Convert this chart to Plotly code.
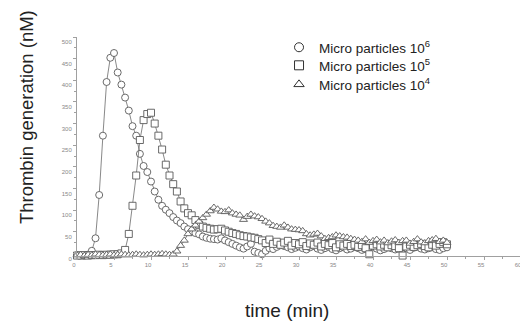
import plotly.graph_objects as go

time_min = [0.0, 0.5, 1.0, 1.5, 2.0, 2.5, 3.0, 3.5, 4.0, 4.5, 5.0, 5.5, 6.0, 6.5, 7.0, 7.5, 8.0, 8.5, 9.0, 9.5,
            10.0, 10.5, 11.0, 11.5, 12.0, 12.5, 13.0, 13.5, 14.0, 14.5, 15.0, 15.5, 16.0, 16.5, 17.0, 17.5, 18.0, 18.5, 19.0, 19.5,
            20.0, 20.5, 21.0, 21.5, 22.0, 22.5, 23.0, 23.5, 24.0, 24.5, 25.0, 25.5, 26.0, 26.5, 27.0, 27.5, 28.0, 28.5, 29.0, 29.5,
            30.0, 30.5, 31.0, 31.5, 32.0, 32.5, 33.0, 33.5, 34.0, 34.5, 35.0, 35.5, 36.0, 36.5, 37.0, 37.5, 38.0, 38.5, 39.0, 39.5,
            40.0, 40.5, 41.0, 41.5, 42.0, 42.5, 43.0, 43.5, 44.0, 44.5, 45.0, 45.5, 46.0, 46.5, 47.0, 47.5, 48.0, 48.5, 49.0, 49.5,
            50.0]

mp_1e6 = [-4, -4, -5, -3, 6, 35, 135, 272, 396, 452, 463, 418, 390, 360, 330, 294, 272, 230, 202, 188,
          166, 143, 124, 110, 101, 93, 84, 76, 70, 62, 56, 51, 47, 44, 39, 36, 34, 33, 32, 35,
          30, 26, 22, 18, 14, 11, 16, 22, 4, 1, -2, 6, 12, 10, 15, 19, 17, 14, 10, 13,
          16, 12, 9, 14, 17, 11, 8, 12, 15, 10, 7, 12, 14, 9, 11, 15, 12, 8, 10, 13,
          16, 11, 7, 10, 14, 12, 9, 11, 15, 12, 8, 13, 16, 11, 9, 12, 15, 10, 8, 12,
          14]

mp_1e5 = [-5, -5, -4, -5, -4, -4, -3, -4, -3, -3, -2, -2, 0, 8, 45, 110, 180, 262, 308, 322,
          325, 300, 272, 240, 205, 180, 160, 143, 120, 104, 93, 88, 77, 66, 62, 59, 57, 55, 56, 57,
          53, 50, 47, 45, 42, 40, 39, 37, 36, 33, 30, 24, 32, 22, 27, 20, 25, 29, 18, 24,
          21, 26, 17, 23, 20, 25, 16, 22, 19, 24, 14, 21, 18, 22, 17, 20, 15, 19, 12, -2,
          18, 21, 16, 20, 14, 19, 17, 12, -5, 16, 20, 15, 19, 22, 17, 14, 20, 18, 22, 26,
          21]

mp_1e4 = [-4, -3, -5, -3, -4, -2, -3, -4, -3, -2, -4, -3, -2, -3, -4, -3, -2, -3, -4, -3,
          -2, -3, -2, -1, -2, -3, -2, 5, 18, 30, 45, 56, 65, 74, 82, 90, 98, 106, 102, 97,
          96, 100, 93, 90, 88, 78, 85, 90, 86, 84, 80, 74, 70, 64, 62, 60, 65, 60, 56, 55,
          54, 52, 45, 42, 44, 46, 40, 34, 36, 38, 42, 40, 38, 37, 34, 32, 30, 27, 33, 25,
          29, 32, 26, 30, 24, 28, 31, 25, 29, 30, 23, 27, 33, 26, 24, 29, 31, 34, 27, 30,
          25]

series = [
    ("Micro particles 10<sup>6</sup>", mp_1e6, "circle"),
    ("Micro particles 10<sup>5</sup>", mp_1e5, "square"),
    ("Micro particles 10<sup>4</sup>", mp_1e4, "triangle-up"),
]
legend_ids = ["legend", "legend2", "legend3"]
legend_tops = [1.023, 0.9405, 0.8536]

x_ticks = [0, 5, 10, 15, 20, 25, 30, 35, 40, 45, 50, 55, 60]
y_ticks = [0, 50, 100, 150, 200, 250, 300, 350, 400, 450, 500]

mark_col = "#5a5a5a"
fig = go.Figure()
for name, vals, sym in series:
    fig.add_trace(go.Scatter(
        x=time_min, y=vals, mode="lines+markers", showlegend=False,
        line=dict(color="#6a6a6a", width=0.8),
        marker=dict(symbol=sym, size=7, color="white",
                    line=dict(color=mark_col, width=0.9)),
        cliponaxis=False,
    ))
for (name, vals, sym), lid in zip(series, legend_ids):
    fig.add_trace(go.Scatter(
        x=[None], y=[None], mode="markers", name=name, legend=lid,
        marker=dict(symbol=sym, size=9, color="white",
                    line=dict(color="#333333", width=1)),
    ))

legend_font = dict(family="Liberation Sans, Arial, sans-serif", size=13.5, color="#222222")
legend_layout = {}
for lid, top in zip(legend_ids, legend_tops):
    legend_layout[lid] = dict(x=0.455, y=top, xanchor="left", yanchor="top", font=legend_font,
                              bgcolor="rgba(0,0,0,0)", itemwidth=30)

axis_col = "#a0a0a0"
tick_font = dict(family="Liberation Sans, Arial, sans-serif", size=6, color="#888888")
fig.update_layout(
    width=520, height=315,
    margin=dict(l=69, r=7, t=29, b=67),
    paper_bgcolor="white", plot_bgcolor="white",
    showlegend=True,
    **legend_layout,
    xaxis=dict(range=[0, 60], tickvals=x_ticks, ticktext=[str(v) for v in x_ticks],
               showgrid=False, zeroline=False, showline=True, linecolor=axis_col, linewidth=1,
               ticks="outside", ticklen=3, tickcolor=axis_col, tickfont=tick_font,
               ticklabelshift=-3,
               minor=dict(dtick=2.5, ticks="outside", ticklen=2, tickcolor=axis_col, showgrid=False)),
    yaxis=dict(range=[-6, 500], tickvals=y_ticks, ticktext=[str(v) for v in y_ticks],
               showgrid=False, zeroline=False, showline=True, linecolor=axis_col, linewidth=1,
               ticks="outside", ticklen=3, tickcolor=axis_col, tickfont=tick_font,
               ticklabelshift=5,
               minor=dict(dtick=25, ticks="outside", ticklen=2, tickcolor=axis_col, showgrid=False)),
    annotations=[
        dict(text="time (min)", xref="paper", yref="paper", x=0.473, y=-0.25,
             xanchor="center", yanchor="middle", showarrow=False,
             font=dict(family="Liberation Sans, Arial, sans-serif", size=19, color="#222222")),
        dict(text="Thrombin generation (nM)", xref="paper", yref="paper", x=-0.115, y=0.634,
             xanchor="center", yanchor="middle", showarrow=False, textangle=-90,
             font=dict(family="Liberation Sans, Arial, sans-serif", size=18.5, color="#222222")),
    ],
)

fig.write_html("out.html")
